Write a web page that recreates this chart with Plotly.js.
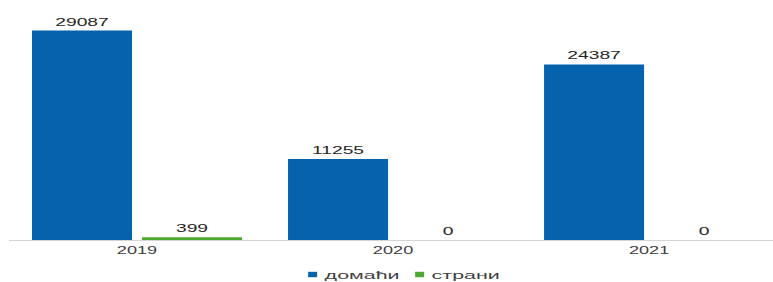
<!DOCTYPE html>
<html><head><meta charset="utf-8">
<script src="https://cdn.plot.ly/plotly-3.0.1.min.js"></script>
<style>html,body{margin:0;padding:0;background:#fff}#chart{width:773px;height:282px}</style>
</head><body><div id="chart"></div>
<script>
const years = ['2019', '2020', '2021'];
const domestic = [29087, 11255, 24387];
const foreign = [399, 0, 0];
const seriesNames = ['домаћи', 'страни'];
const seriesColors = ['#0563ad', '#4ea72e'];

const font = 'Liberation Sans, Arial, sans-serif';
function barTrace(vals, i) {
  return {
    type: 'bar', x: years, y: vals, name: seriesNames[i],
    marker: {color: seriesColors[i]},
    text: vals.map(String), textposition: 'outside',
    textfont: {size: 11, color: '#262626', family: font},
    cliponaxis: false, hoverinfo: 'none'
  };
}
const traces = [barTrace(domestic, 0), barTrace(foreign, 1)];
const layout = {
  width: 773, height: 282,
  margin: {l: 9, r: 0, t: 10, b: 42},
  barmode: 'group', bargap: 0.1406, bargroupgap: 0.0909,
  xaxis: {type: 'category', range: [-0.5, 2.484], showline: true, linecolor: '#d4d4d4', linewidth: 1,
    ticks: '', tickfont: {size: 11, color: '#404040', family: font}, showgrid: false, zeroline: false},
  yaxis: {range: [0, 31944], visible: false, showgrid: false, zeroline: false},
  showlegend: true,
  legend: {orientation: 'h', xref: 'container', yref: 'container', x: 0.517, xanchor: 'center',
    y: 0.0, yanchor: 'bottom', font: {size: 11, color: '#404040', family: font},
    entrywidth: 62, entrywidthmode: 'pixels'},
  paper_bgcolor: '#fff', plot_bgcolor: '#fff'
};
Plotly.newPlot('chart', traces, layout, {staticPlot: true}).then(function (gd) {
  function sx(el, f, mode, dx) {
    const b = el.getBBox();
    const ax = mode === 'start' ? b.x : (mode === 'end' ? b.x + b.width : b.x + b.width / 2);
    const t = el.getAttribute('transform') || '';
    el.setAttribute('transform', t + ' translate(' + (dx || 0) + ',0) translate(' + ax + ',0) scale(' + f + ',1) translate(' + (-ax) + ',0)');
  }
  gd.querySelectorAll('text.bartext').forEach(function (el) { sx(el, 1.75, 'middle'); });
  gd.querySelectorAll('.xtick text').forEach(function (el) { sx(el, 1.65, 'middle'); });
  gd.querySelectorAll('text.legendtext').forEach(function (el) { sx(el, 1.95, 'start', -8); });
  gd.querySelectorAll('.legendpoints path').forEach(function (el) {
    const t = el.getAttribute('transform') || '';
    el.setAttribute('transform', t + ' scale(0.75,0.45)');
  });
  const lg = gd.querySelector('g.legend');
  if (lg) {
    lg.querySelectorAll('[clip-path]').forEach(function (el) { el.removeAttribute('clip-path'); });
    lg.removeAttribute('clip-path');
    const t = lg.getAttribute('transform') || '';
    lg.setAttribute('transform', t + ' translate(0,7)');
  }
});
</script>
</body></html>
